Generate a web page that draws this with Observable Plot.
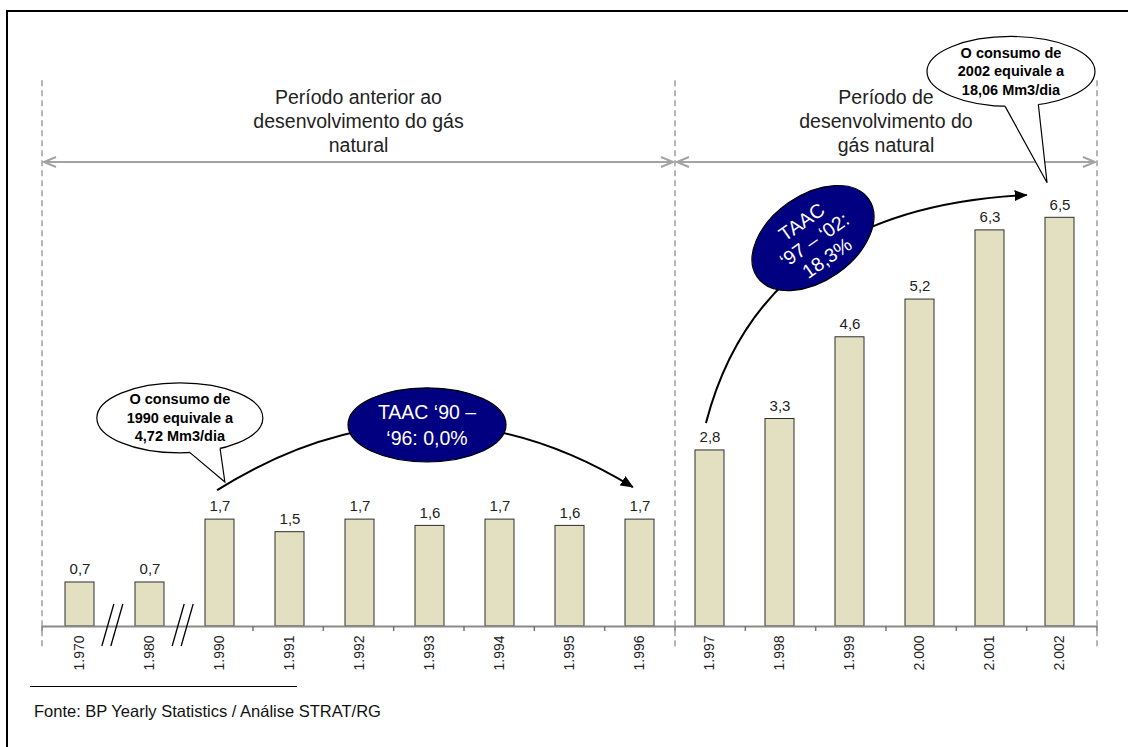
<!DOCTYPE html>
<html>
<head>
<meta charset="utf-8">
<script src="https://cdn.jsdelivr.net/npm/d3@7"></script>
<script src="https://cdn.jsdelivr.net/npm/@observablehq/plot@0.6"></script>
<style>
  html, body { margin: 0; padding: 0; background: #fff; }
  body { width: 1128px; height: 747px; position: relative; overflow: hidden;
         font-family: "Liberation Sans", Arial, Helvetica, sans-serif; }
  #chart svg { display: block; }
  #source { margin-left: 30px; margin-top: 6px; width: 267px; border-top: 1px solid #000;
            padding-top: 15px; padding-left: 4px; box-sizing: border-box;
            font-size: 16.5px; color: #111; white-space: nowrap; }
  #frame { position: absolute; left: 6px; top: 10px; right: 0; bottom: 0;
           border-top: 2px solid #000; border-left: 2px solid #000; pointer-events: none; }
</style>
</head>
<body>
<div id="chart"></div>
<div id="source"></div>
<div id="frame"></div>
<script>
// Consumo anual de gás natural (bcm) — anos e valores
const years = ["1.970", "1.980", "1.990", "1.991", "1.992", "1.993", "1.994", "1.995",
               "1.996", "1.997", "1.998", "1.999", "2.000", "2.001", "2.002"];
const consumo = [0.7, 0.7, 1.7, 1.5, 1.7, 1.6, 1.7, 1.6, 1.7, 2.8, 3.3, 4.6, 5.2, 6.3, 6.5];

// Textos das anotações
const periodLabels = [
  ["Período anterior ao", "desenvolvimento do gás", "natural"],
  ["Período de", "desenvolvimento do", "gás natural"]
];
const growthLabels = [
  ["TAAC ‘90 –", "‘96: 0,0%"],
  ["TAAC", "‘97 – ‘02:", "18,3%"]
];
const calloutLabels = [
  ["O consumo de", "1990 equivale a", "4,72 Mm3/dia"],
  ["O consumo de", "2002 equivale a", "18,06 Mm3/dia"]
];
const sourceText = "Fonte: BP Yearly Statistics / Análise STRAT/RG";

const FONT = "Liberation Sans, Arial, Helvetica, sans-serif";
const rows = years.map((year, i) => ({year, value: consumo[i]}));
const fmt = v => d3.format(".1f")(v).replace(".", ",");

const plot = Plot.plot({
  width: 1128,
  height: 680,
  marginLeft: 42,
  marginRight: 31,
  marginTop: 123,
  marginBottom: 54,
  style: {fontFamily: FONT, background: "transparent", overflow: "visible"},
  x: {type: "band", domain: years, paddingInner: 0.59, paddingOuter: 0.295, axis: null},
  y: {domain: [0, 8], axis: null},
  marks: [
    Plot.barY(rows, {x: "year", y: "value", fill: "#E3DFC1", stroke: "#2e2e2e", strokeWidth: 1}),
    Plot.ruleY([0], {stroke: "#8a8a8a", strokeWidth: 2}),
    Plot.text(rows, {x: "year", y: "value", text: d => fmt(d.value), dy: -13,
                     fontSize: 15, fill: "#222", ariaLabel: "valores"}),
    Plot.text(years, {x: d => d, y: 0, text: d => d, rotate: -90, textAnchor: "end",
                      dy: 9, fontSize: 14, fill: "#222"})
  ]
});
document.getElementById("chart").appendChild(plot);
document.getElementById("source").textContent = sourceText;

plot.querySelectorAll('g[aria-label="valores"] text').forEach(t => t.setAttribute("letter-spacing", "1.5"));

// Posições das anotações em coordenadas do gráfico: f = índice de categoria, v = valor
const sx = plot.scale("x"), sy = plot.scale("y");
const [r0, r1] = sx.range;
const step = (r1 - r0) / years.length;
const X = f => r0 + (f + 0.5) * step;
const Y = v => sy.apply(v);

const svg = d3.select(plot);
const defs = svg.append("defs");
defs.append("marker")
  .attr("id", "seta").attr("viewBox", "0 0 13 11")
  .attr("refX", 12).attr("refY", 5.5)
  .attr("markerWidth", 13).attr("markerHeight", 11)
  .attr("markerUnits", "userSpaceOnUse").attr("orient", "auto")
  .append("path").attr("d", "M0,0L13,5.5L0,11Z").attr("fill", "#000");

const g = svg.append("g").attr("aria-label", "anotações").attr("font-family", FONT);
const y0 = Y(0);

// Marcas do eixo nos limites das categorias e quebras de escala
const breaks = [0.5, 1.5];
for (let f = -0.5; f <= years.length - 0.5; f += 1) {
  if (breaks.includes(f)) continue;
  g.append("line").attr("x1", X(f)).attr("x2", X(f)).attr("y1", y0).attr("y2", y0 + 5)
    .attr("stroke", "#777").attr("stroke-width", 1.5);
}
for (const f of breaks) {
  for (const o of [-4.5, 4.5]) {
    g.append("line")
      .attr("x1", X(f) + o - 6).attr("y1", y0 + 20)
      .attr("x2", X(f) + o + 6).attr("y2", y0 - 22)
      .attr("stroke", "#000").attr("stroke-width", 1.3);
  }
}

// Divisórias tracejadas entre os períodos
const periods = [[-0.5, 8.5], [8.5, years.length - 0.5]];
for (const f of [-0.5, 8.5, years.length - 0.5]) {
  g.append("line").attr("x1", X(f)).attr("x2", X(f))
    .attr("y1", Y(8.68)).attr("y2", Y(-0.38))
    .attr("stroke", "#9e9e9e").attr("stroke-width", 1.5).attr("stroke-dasharray", "6,4");
}

// Setas duplas e títulos dos períodos
const arrowY = Y(7.38);
periods.forEach(([a, b], k) => {
  const xa = X(a) + 2, xb = X(b) - 2;
  const gray = "#a3a3a3";
  g.append("line").attr("x1", xa).attr("x2", xb).attr("y1", arrowY).attr("y2", arrowY)
    .attr("stroke", gray).attr("stroke-width", 2);
  g.append("path")
    .attr("d", `M${xa + 12},${arrowY - 5}L${xa},${arrowY}L${xa + 12},${arrowY + 5}` +
               `M${xb - 12},${arrowY - 5}L${xb},${arrowY}L${xb - 12},${arrowY + 5}`)
    .attr("fill", "none").attr("stroke", gray).attr("stroke-width", 2);
  const lines = periodLabels[k];
  const cx = X((a + b) / 2);
  lines.forEach((s, i) => {
    g.append("text").attr("x", cx).attr("y", arrowY - 17 - (lines.length - 1 - i) * 24)
      .attr("text-anchor", "middle").attr("dominant-baseline", "central")
      .attr("font-size", 19.5).attr("fill", "#222").text(s);
  });
});

// Curvas de crescimento (TAAC)
const curves = [
  {from: [1.99, 2.16], ctrl: [4.945, 4.23], to: [7.90, 2.21]},
  {from: [8.94, 3.23], ctrl: [9.74, 6.65], to: [13.50, 6.855]}
];
curves.forEach(c => {
  g.append("path")
    .attr("d", `M${X(c.from[0])},${Y(c.from[1])}Q${X(c.ctrl[0])},${Y(c.ctrl[1])} ${X(c.to[0])},${Y(c.to[1])}`)
    .attr("fill", "none").attr("stroke", "#000").attr("stroke-width", 2)
    .attr("marker-end", "url(#seta)");
});

// Elipses azuis com a taxa anual composta
const growth = [
  {at: [4.974, 3.20], rx: 79, ry: 37, angle: 0, spacing: 26, shift: 0},
  {at: [10.462, 6.17], rx: 68, ry: 43, angle: -35, spacing: 22, shift: 2}
];
growth.forEach((e, k) => {
  const ge = g.append("g").attr("transform", `translate(${X(e.at[0])},${Y(e.at[1])}) rotate(${e.angle})`);
  ge.append("ellipse").attr("rx", e.rx).attr("ry", e.ry)
    .attr("fill", "#000080").attr("stroke", "#000").attr("stroke-width", 1.2);
  const lines = growthLabels[k];
  lines.forEach((s, i) => {
    ge.append("text").attr("x", 0).attr("y", e.shift + (i - (lines.length - 1) / 2) * e.spacing)
      .attr("text-anchor", "middle").attr("dominant-baseline", "central")
      .attr("font-size", 19.5).attr("fill", "#fff").text(s);
  });
});

// Balões explicativos
const callouts = [
  {at: [1.46, 3.31], rx: 83, ry: 35, tip: [2.10, 2.29], base: [83, 61]},
  {at: [13.277, 8.82], rx: 84, ry: 35, tip: [13.79, 7.05], base: [94, 71]}
];
callouts.forEach((c, k) => {
  const cx = X(c.at[0]), cy = Y(c.at[1]);
  const tx = X(c.tip[0]), ty = Y(c.tip[1]);
  const pts = c.base.map(deg => {
    const t = deg * Math.PI / 180;
    return [cx + c.rx * Math.cos(t), cy + c.ry * Math.sin(t)];
  });
  const inner = c.base.map(deg => {
    const t = deg * Math.PI / 180;
    return [cx + (c.rx - 3) * Math.cos(t), cy + (c.ry - 3) * Math.sin(t)];
  });
  g.append("ellipse").attr("cx", cx).attr("cy", cy).attr("rx", c.rx).attr("ry", c.ry)
    .attr("fill", "#fff").attr("stroke", "#000").attr("stroke-width", 1.2);
  g.append("path")
    .attr("d", `M${inner[0]}L${pts[0]}L${tx},${ty}L${pts[1]}L${inner[1]}Z`)
    .attr("fill", "#fff").attr("stroke", "none");
  g.append("path")
    .attr("d", `M${pts[0]}L${tx},${ty}L${pts[1]}`)
    .attr("fill", "none").attr("stroke", "#000").attr("stroke-width", 1.2);
  const lines = calloutLabels[k];
  lines.forEach((s, i) => {
    g.append("text").attr("x", cx).attr("y", cy + (i - 1) * 18.5)
      .attr("text-anchor", "middle").attr("dominant-baseline", "central")
      .attr("font-size", 14.5).attr("font-weight", "bold").attr("fill", "#000").text(s);
  });
});
</script>
</body>
</html>
